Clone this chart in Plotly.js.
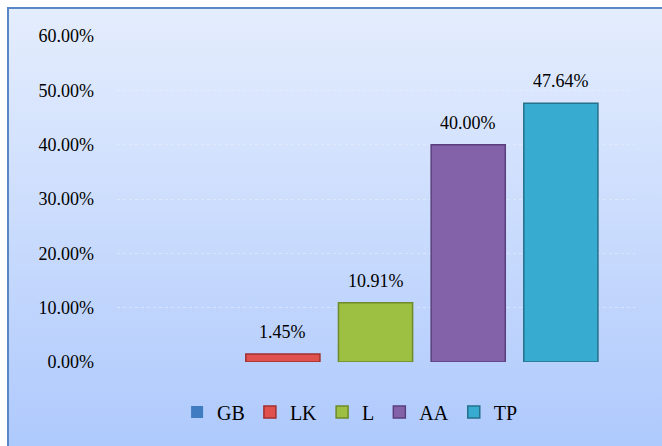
<!DOCTYPE html>
<html>
<head>
<meta charset="utf-8">
<script src="https://cdn.plot.ly/plotly-3.0.1.min.js"></script>
<style>
  html, body { margin: 0; padding: 0; width: 662px; height: 446px; overflow: hidden; background: #ffffff; }
  #frame { position: absolute; left: 7px; top: 7px; width: 700px; height: 500px;
           border-left: 2px solid #5a86c4; border-top: 2px solid #5a86c4;
           background: linear-gradient(to bottom, #e4edfd 0%, #c9dbfd 45%, #a6c4fc 100%); }
  #chart { position: absolute; left: 0; top: 0; width: 662px; height: 446px; }
</style>
</head>
<body>
<div id="frame"></div>
<div id="chart"></div>
<script>
const categories = ["GB", "LK", "L", "AA", "TP"];
const values = [0, 1.45, 10.91, 40.00, 47.64];
const yTickVals = [0, 10, 20, 30, 40, 50, 60];
const yTickText = ["0.00%", "10.00%", "20.00%", "30.00%", "40.00%", "50.00%", "60.00%"];

const barColors = ["#3f7cc2", "#e0504c", "#9dbf42", "#8462aa", "#37acd0"];
const lineColors = ["#2a5a90", "#a03030", "#6f8a2a", "#5a3f7c", "#25708a"];
const SERIF = "'Liberation Serif', 'Times New Roman', Times, serif";

const traces = categories.map((c, i) => ({
  type: "bar",
  name: c,
  x: [c],
  y: [values[i]],
  width: 0.8,
  marker: { color: barColors[i], line: { color: lineColors[i], width: values[i] > 0 ? 1.5 : 0 } },
  hoverinfo: "skip"
}));

const annotations = categories.map((c, i) => values[i] > 0 ? {
  x: c, y: values[i], xref: "x", yref: "y",
  text: values[i].toFixed(2) + "%",
  showarrow: false, yshift: 22,
  font: { family: SERIF, size: 18, color: "#000000" }
} : null).filter(a => a);

const layout = {
  width: 662, height: 446,
  margin: { l: 117, r: 27, t: 36, b: 84 },
  paper_bgcolor: "rgba(0,0,0,0)",
  plot_bgcolor: "rgba(0,0,0,0)",
  barmode: "overlay",
  showlegend: true,
  font: { family: SERIF, size: 18, color: "#000000" },
  xaxis: {
    type: "category", categoryorder: "array", categoryarray: categories,
    range: [-0.79, 4.8], showticklabels: false, showgrid: false,
    zeroline: false, showline: false, fixedrange: true
  },
  yaxis: {
    range: [0, 60], tickvals: yTickVals, ticktext: yTickText,
    showgrid: true, gridcolor: "rgba(235,240,250,0.55)", griddash: "dot", gridwidth: 1,
    zeroline: false, showline: false, ticks: "", ticklabelstandoff: 22,
    tickfont: { family: SERIF, size: 18, color: "#000000" }
  },
  legend: {
    orientation: "h", x: 0.45, xanchor: "center", y: 0.076, yref: "container", yanchor: "middle",
    font: { family: SERIF, size: 20, color: "#000000" },
    itemwidth: 30, bgcolor: "rgba(0,0,0,0)"
  },
  annotations: annotations
};

Plotly.newPlot("chart", traces, layout, { displayModeBar: false, staticPlot: true });
</script>
</body>
</html>
